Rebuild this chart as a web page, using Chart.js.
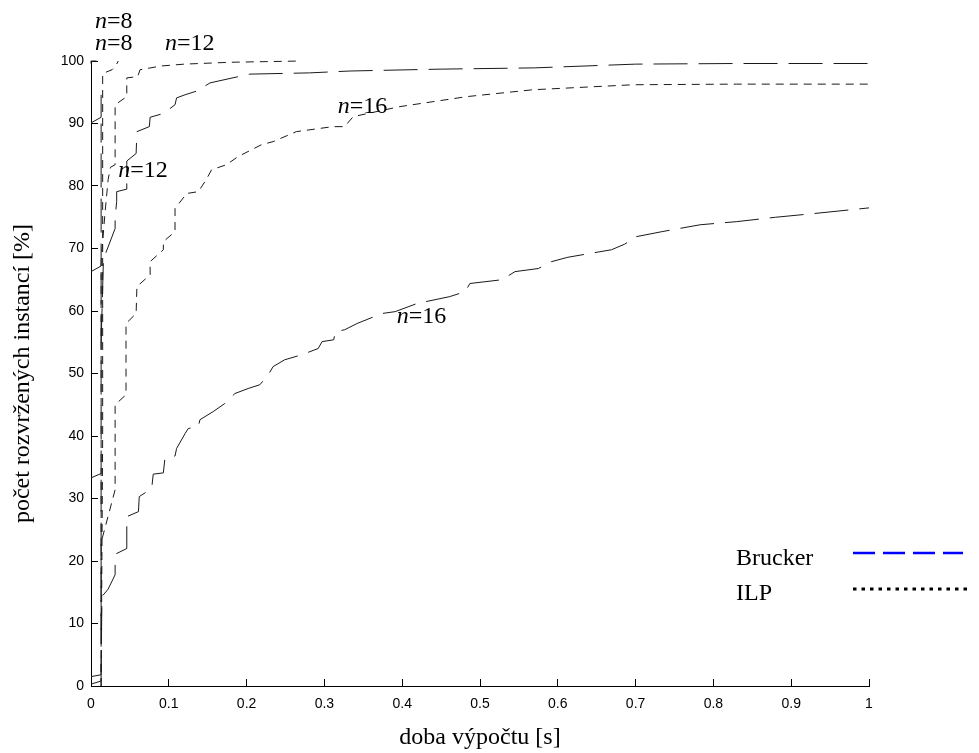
<!DOCTYPE html>
<html>
<head>
<meta charset="utf-8">
<script src="https://cdn.jsdelivr.net/npm/chart.js@4.4.1/dist/chart.umd.min.js"></script>
<style>
  html, body { margin: 0; padding: 0; background: #fff; }
  #wrap { width: 979px; height: 753px; }
</style>
</head>
<body>
<div id="wrap"><canvas id="c" width="979" height="753"></canvas></div>
<script>
// cumulative share of solved instances vs. computation time
// x = time [s], y = percent; null point = break in the line
var bruckerN8 = [
  [0, 0.3], [0.013, 0.8], [0.013, 33], null,
  [0, 33.3], [0.013, 34], [0.013, 66], null,
  [0, 66.3], [0.013, 67.2], [0.013, 90], null,
  [0, 90.1], [0.013, 91], [0.013, 96], null,
  [0, 99.6], [0, 100], [0.007, 100]
];
var bruckerN12 = [
  [0.013, 55], [0.016, 68.3], [0.031, 73.2], [0.031, 75], [0.033, 77.5], [0.033, 79.1],
  [0.046, 79.5], [0.046, 84], [0.058, 85.2], [0.059, 88.7], [0.075, 89.5], [0.076, 91],
  [0.093, 91.6], [0.108, 93], [0.11, 94.1], [0.121, 94.6], [0.136, 95.2], [0.153, 96.5],
  [0.204, 97.9], [0.281, 98.1], [0.333, 98.4], [0.45, 98.7], [0.57, 98.9], [0.7, 99.5],
  [0.83, 99.6], [1.0, 99.6]
];
var bruckerN16 = [
  [0, 1.5], [0.013, 1.8], [0.014, 14.3], [0.022, 15.5], [0.031, 17.8], [0.031, 19.9],
  [0.033, 21.2], [0.046, 22], [0.046, 27.1], [0.061, 27.9], [0.062, 30.3], [0.078, 31.6],
  [0.08, 33.9], [0.093, 34.1], [0.095, 36.4], [0.108, 36.8], [0.11, 38], [0.121, 40.4],
  [0.125, 41.2], [0.138, 41.5], [0.14, 42.6], [0.157, 43.9], [0.172, 45.2], [0.185, 46.8],
  [0.202, 47.6], [0.217, 48.2], [0.228, 49.8], [0.234, 51.1], [0.249, 52.2], [0.271, 53],
  [0.292, 54], [0.297, 55.1], [0.312, 55.4], [0.314, 56.7], [0.326, 57], [0.342, 58],
  [0.374, 59.6], [0.391, 59.9], [0.419, 61.2], [0.461, 62.3], [0.481, 63.1], [0.487, 64.4],
  [0.528, 65], [0.545, 66.3], [0.575, 66.8], [0.592, 67.9], [0.613, 68.6], [0.669, 69.8],
  [0.686, 70.7], [0.701, 71.9], [0.734, 72.7], [0.783, 73.8], [0.83, 74.3], [0.88, 75],
  [0.93, 75.6], [1.0, 76.5]
];
var ilpN8 = [
  [0.013, 0], [0.015, 40], [0.015, 98], [0.027, 98.6], [0.033, 99.5], [0.035, 100]
];
var ilpN12 = [
  [0.013, 0], [0.013, 68], [0.018, 75.7], [0.022, 81], [0.025, 83], [0.031, 83.4],
  [0.031, 93], [0.046, 94.3], [0.046, 97.3], [0.06, 97.5], [0.063, 98.6], [0.09, 99.2],
  [0.12, 99.5], [0.18, 99.8], [0.27, 100]
];
var ilpN16 = [
  [0.013, 8], [0.013, 23], [0.018, 25.3], [0.031, 31.4], [0.031, 45], [0.045, 46.6],
  [0.045, 58], [0.058, 59.6], [0.059, 63.9], [0.076, 65.8], [0.076, 67.9], [0.093, 69.8],
  [0.093, 71.1], [0.108, 72.7], [0.108, 76.4], [0.123, 78.8], [0.138, 79.1], [0.148, 81],
  [0.155, 82.6], [0.174, 83.4], [0.189, 84.7], [0.219, 86.6], [0.234, 87.1], [0.264, 88.7],
  [0.311, 89.5], [0.326, 89.5], [0.337, 91.1], [0.397, 92.7], [0.483, 94.3], [0.568, 95.4],
  [0.697, 96.2], [0.83, 96.3], [1.0, 96.3]
];

var xTickLabels = ['0', '0.1', '0.2', '0.3', '0.4', '0.5', '0.6', '0.7', '0.8', '0.9', '1'];
var yTickLabels = ['0', '10', '20', '30', '40', '50', '60', '70', '80', '90', '100'];

// curve labels "n=..." placed in data units
var curveLabelN = ['8', '8', '12', '12', '16', '16'];
var curveLabelX = [0.005, 0.005, 0.095, 0.035, 0.317, 0.393];
var curveLabelY = [105.3, 101.8, 101.8, 81.4, 91.7, 58.1];

var legendNames = ['Brucker', 'ILP'];

function toXY(arr) {
  return arr.map(function (p) {
    return p ? { x: p[0], y: p[1] } : { x: null, y: null };
  });
}

var longDash = [34, 11];
var shortDash = [8, 6];

function series(name, arr, dash) {
  return {
    label: name,
    data: toXY(arr),
    showLine: true,
    spanGaps: false,
    borderColor: '#1a1a1a',
    borderWidth: 1,
    borderDash: dash,
    pointRadius: 0,
    fill: false,
    clip: false
  };
}

var serif = "'Liberation Serif', 'Times New Roman', serif";
var sans = "'Liberation Sans', Arial, sans-serif";

// "n=8" style annotations and the hand-placed legend
var textPlugin = {
  id: 'curveText',
  afterDraw: function (chart) {
    var ctx = chart.ctx;
    var xs = chart.scales.x, ys = chart.scales.y;
    ctx.save();
    ctx.fillStyle = '#000';
    ctx.textBaseline = 'alphabetic';
    ctx.textAlign = 'left';
    for (var i = 0; i < curveLabelN.length; i++) {
      var px = xs.getPixelForValue(curveLabelX[i]);
      var py = ys.getPixelForValue(curveLabelY[i]);
      ctx.font = 'italic 24px ' + serif;
      ctx.fillText('n', px, py);
      var w = ctx.measureText('n').width;
      ctx.font = '24px ' + serif;
      ctx.fillText('=' + curveLabelN[i], px + w, py);
    }

    // legend
    ctx.font = '24px ' + serif;
    ctx.fillText(legendNames[0], 736, 565);
    ctx.fillText(legendNames[1], 736, 600);

    ctx.lineCap = 'butt';
    ctx.strokeStyle = '#0000ff';
    ctx.lineWidth = 2.5;
    ctx.setLineDash([22, 8]);
    ctx.beginPath();
    ctx.moveTo(853, 553);
    ctx.lineTo(963, 553);
    ctx.stroke();

    ctx.strokeStyle = '#000';
    ctx.lineWidth = 3;
    ctx.setLineDash([3.5, 5]);
    ctx.beginPath();
    ctx.moveTo(853, 589);
    ctx.lineTo(970, 589);
    ctx.stroke();
    ctx.restore();
  }
};

new Chart(document.getElementById('c'), {
  type: 'scatter',
  data: {
    datasets: [
      series('Brucker n=8', bruckerN8, longDash),
      series('Brucker n=12', bruckerN12, longDash),
      series('Brucker n=16', bruckerN16, longDash),
      series('ILP n=8', ilpN8, shortDash),
      series('ILP n=12', ilpN12, shortDash),
      series('ILP n=16', ilpN16, shortDash)
    ]
  },
  options: {
    responsive: false,
    animation: false,
    devicePixelRatio: 1,
    layout: { padding: { left: 0, right: 110, top: 61, bottom: 0 } },
    plugins: {
      legend: { display: false },
      tooltip: { enabled: false }
    },
    scales: {
      x: {
        type: 'linear',
        min: 0,
        max: 1,
        afterFit: function (s) { s.height = 67; },
        ticks: {
          stepSize: 0.1,
          padding: 17,
          color: '#000',
          font: { family: sans, size: 14 },
          maxRotation: 0,
          callback: function (v, i) { return xTickLabels[i]; }
        },
        grid: { drawOnChartArea: false, drawTicks: true, tickLength: -7, color: '#000' },
        border: { display: true, color: '#000', width: 1 },
        title: {
          display: true,
          text: 'doba výpočtu [s]',
          color: '#000',
          font: { family: serif, size: 24 },
          padding: { top: 0, bottom: 1 }
        }
      },
      y: {
        type: 'linear',
        min: 0,
        max: 100,
        afterFit: function (s) { s.width = 91; },
        ticks: {
          stepSize: 10,
          padding: 14,
          color: '#000',
          font: { family: sans, size: 14 },
          callback: function (v, i) { return yTickLabels[i]; }
        },
        grid: { drawOnChartArea: false, drawTicks: true, tickLength: -7, color: '#000' },
        border: { display: true, color: '#000', width: 1 },
        title: {
          display: true,
          text: 'počet rozvržených instancí [%]',
          color: '#000',
          font: { family: serif, size: 24 },
          padding: { top: 8, bottom: 0 }
        }
      }
    }
  },
  plugins: [textPlugin]
});
</script>
</body>
</html>
